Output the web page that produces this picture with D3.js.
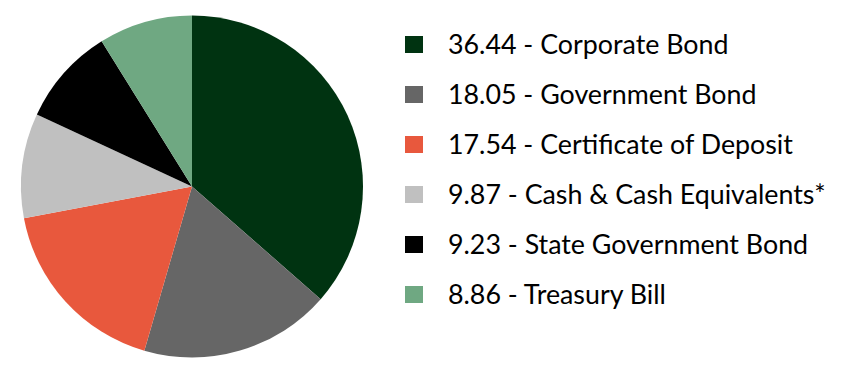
<!DOCTYPE html>
<html>
<head>
<meta charset="utf-8">
<script src="https://cdn.jsdelivr.net/npm/d3@7"></script>
<style>
	body { margin: 0; background: #fff; }
	text { font-family: "Lato", "Open Sans", sans-serif; }
</style>
</head>
<body>
<svg id="viz" width="846" height="373"></svg>
<script>
var categories = ["Corporate Bond", "Government Bond", "Certificate of Deposit", "Cash & Cash Equivalents*", "State Government Bond", "Treasury Bill"];
var values = [36.44, 18.05, 17.54, 9.87, 9.23, 8.86];
var colors = ["#003311", "#666666", "#e8583d", "#c0c0c0", "#000000", "#6fa882"];

var data = categories.map(function (c, i) { return {name: c, value: values[i]}; });

var svg = d3.select("#viz"),
	cx = 192, cy = 186.5, radius = 171;

var color = d3.scaleOrdinal().domain(categories).range(colors);

var pie = d3.pie()
	.value(function (d) { return d.value; })
	.sort(null);
var arc = d3.arc().innerRadius(0).outerRadius(radius);

svg.append("g")
	.attr("transform", "translate(" + cx + "," + cy + ")")
	.selectAll("path")
	.data(pie(data))
	.enter().append("path")
	.attr("d", arc)
	.attr("fill", function (d) { return color(d.data.name); });

var rowY = d3.scalePoint().domain(categories).range([54, 304]);

var legend = svg.append("g").attr("class", "legend")
	.selectAll("g")
	.data(data)
	.enter().append("g")
	.attr("transform", function (d) { return "translate(0," + rowY(d.name) + ")"; });

legend.append("rect")
	.attr("x", 405).attr("y", -18)
	.attr("width", 18).attr("height", 17)
	.attr("fill", function (d) { return color(d.name); });

legend.append("text")
	.attr("x", 448).attr("y", 0)
	.attr("font-size", 26.8)
	.attr("fill", "#000")
	.text(function (d) { return d.value.toFixed(2) + " - " + d.name; });
</script>
</body>
</html>
